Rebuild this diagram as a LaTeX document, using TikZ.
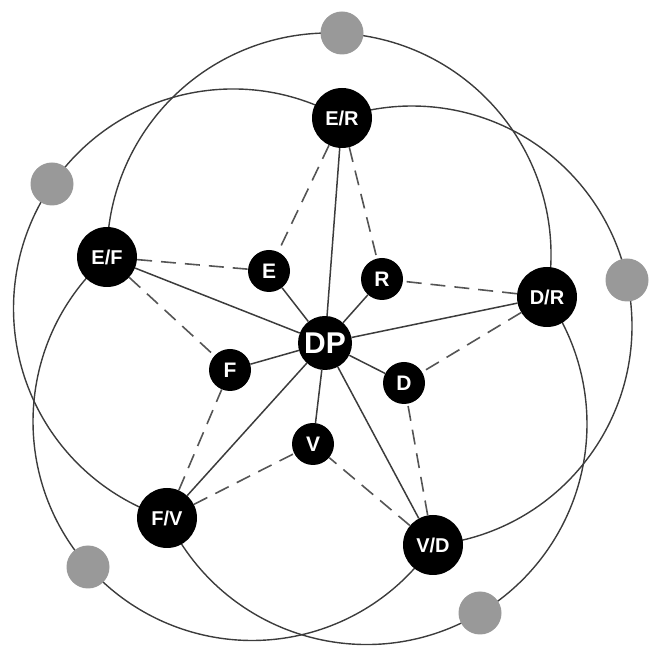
\documentclass[tikz,border=0pt]{standalone}
\usepackage{fontspec}
\setmainfont{Liberation Sans}
\definecolor{ringgray}{HTML}{3C3C3C}
\definecolor{linkgray}{HTML}{555555}
\definecolor{dotgray}{HTML}{999999}

\begin{document}
\begin{tikzpicture}[x=1pt,y=1pt,
		ring/.style={draw=ringgray, line width=1.4pt},
		spoke/.style={draw=ringgray, line width=1.5pt},
		link/.style={draw=linkgray, line width=1.6pt, dash pattern=on 15pt off 9pt},
		hub/.style={circle, fill=black, text=white, inner sep=0pt, minimum size=54pt,
			font=\bfseries\fontsize{30}{30}\selectfont},
		pair/.style={circle, fill=black, text=white, inner sep=0pt, minimum size=60pt,
			font=\bfseries\fontsize{20}{20}\selectfont},
		single/.style={circle, fill=black, text=white, inner sep=0pt, minimum size=42pt,
			font=\bfseries\fontsize{21}{21}\selectfont},
		graydot/.style={circle, fill=dotgray, inner sep=0pt, minimum size=43pt}]
	\useasboundingbox (0,0) rectangle (649,650);

	% the five outer rings, each from one pair round to the next
	\foreach \cx/\cy/\r/\a/\b in {329/395/222/-10.9/180.5, 412/324/220/-84.5/108.6,
			366.5/226/220.5/-154.8/35.1, 252/228.5/219/131.4/325.7, 233/341.5/219.5/60.2/252.5}
		\draw [ring] (\cx,\cy) ++(\a:\r) arc (\a:\b:\r);

	% centre and outer pairs
	\node [hub] (DP) at (325,307) {DP};
	\node [pair] (ER) at (342,532) {E/R};
	\node [pair] (DR) at (547,353) {D/R};
	\node [pair] (VD) at (433,105) {V/D};
	\node [pair] (FV) at (167,132) {F/V};
	\node [pair] (EF) at (107,393) {E/F};

	% inner singles
	\node [single] (E) at (269,379) {E};
	\node [single] (R) at (382,371) {R};
	\node [single] (D) at (404,267) {D};
	\node [single] (V) at (313,206) {V};
	\node [single] (F) at (230,280) {F};

	% grey points on the rings
	\node [graydot] (gT) at (342,617) {};
	\node [graydot] (gR) at (627,370) {};
	\node [graydot] (gBR) at (480,37) {};
	\node [graydot] (gBL) at (88,83) {};
	\node [graydot] (gL) at (52,466) {};

	\foreach \n in {ER,DR,VD,FV,EF,E,R,D,V,F}
		\draw [spoke] (DP) -- (\n);

	\foreach \a/\b in {ER/E, ER/R, EF/E, EF/F, DR/R, DR/D, VD/D, VD/V, FV/V, FV/F}
		\draw [link] (\a) -- (\b);
\end{tikzpicture}
\end{document}
